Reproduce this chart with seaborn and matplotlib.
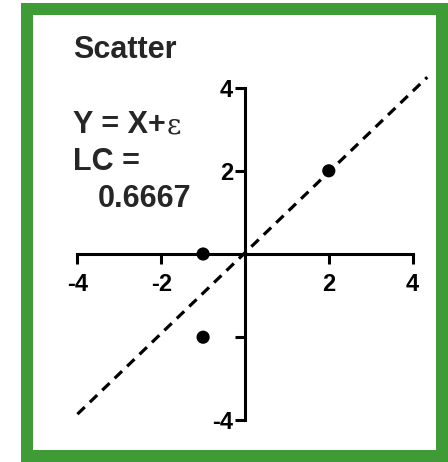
import matplotlib
matplotlib.use("Agg")
import matplotlib.pyplot as plt
import matplotlib.patches as mpatches
import seaborn as sns
import pandas as pd

# Observations
x_vals = [-1, -1, 2]
y_vals = [0, -2, 2]

# Reference line Y = X
line_x = [-4.0, 4.35]
line_y = [-3.85, 4.25]

x_ticks = [-4, -2, 2, 4]
x_tick_labels = ["-4", "-2", "2", "4"]
y_ticks = [-4, -2, 2, 4]
y_tick_labels = ["-4", "", "2", "4"]

title = "Scatter"
model_text = "Y = X+"
eps_text = "ε"
lc_label = "LC ="
lc_value = "0.6667"

sns.set_style("ticks")
plt.rcParams["font.family"] = ["Liberation Sans", "DejaVu Sans"]

W, H = 448, 462
fig = plt.figure(figsize=(W / 100, H / 100), dpi=100)
fig.patch.set_facecolor("white")

# axes placement (pixels from the top-left corner)
x0_px, y0_px = 245, 254
sx, sy = 41.9, 41.6
xlim = (-4.2, 4.5)
ylim = (-4.2, 4.5)
left = x0_px + xlim[0] * sx
right = x0_px + xlim[1] * sx
top = y0_px - ylim[1] * sy
bottom = y0_px - ylim[0] * sy
ax = fig.add_axes([left / W, 1 - bottom / H, (right - left) / W, (bottom - top) / H])
ax.set_facecolor("none")

df_pts = pd.DataFrame({"x": x_vals, "y": y_vals})
df_line = pd.DataFrame({"x": line_x, "y": line_y})

sns.lineplot(data=df_line, x="x", y="y", ax=ax, color="black", lw=2.3,
             dashes=False, sort=False, zorder=2).lines[0].set_dashes((3.2, 2.2))
sns.scatterplot(data=df_pts, x="x", y="y", ax=ax, color="black", s=90,
                edgecolor="none", zorder=3)

ax.set_xlim(*xlim)
ax.set_ylim(*ylim)
ax.set_xlabel("")
ax.set_ylabel("")

for side in ("top", "right"):
    ax.spines[side].set_visible(False)
for side in ("left", "bottom"):
    ax.spines[side].set_position(("data", 0))
    ax.spines[side].set_bounds(-4, 4)
    ax.spines[side].set_linewidth(2.2)
    ax.spines[side].set_color("black")

ax.set_xticks(x_ticks)
ax.set_xticklabels(x_tick_labels)
ax.set_yticks(y_ticks)
ax.set_yticklabels(y_tick_labels)
ax.tick_params(axis="both", direction="out", length=7.5, width=2.2,
               color="black", labelsize=17, labelcolor="black",
               bottom=True, left=True, top=False, right=False)
ax.tick_params(axis="x", pad=6)
ax.tick_params(axis="y", pad=1)
for lab in ax.get_xticklabels() + ax.get_yticklabels():
    lab.set_fontweight("bold")

# annotation text
def fy(px):
    return 1 - px / H

fs = 22
fig.text(73 / W, fy(58), title, fontsize=fs, fontweight="bold", va="baseline")
t = fig.text(73 / W, fy(133), model_text, fontsize=fs, fontweight="bold", va="baseline")
fig.canvas.draw()
bb = t.get_window_extent(renderer=fig.canvas.get_renderer())
fig.text(bb.x1 / W + 1 / W, fy(133), eps_text, fontsize=fs - 2, fontweight="normal",
         va="baseline", family=["DejaVu Serif", "DejaVu Sans"])
fig.text(73 / W, fy(170), lc_label, fontsize=fs, fontweight="bold", va="baseline")
fig.text(98 / W, fy(207), lc_value, fontsize=fs, fontweight="bold", va="baseline")

# green frame
border = mpatches.Rectangle((27 / W, 1 - 456 / H), (442 - 27) / W, (456 - 9) / H,
                            transform=fig.transFigure, fill=False,
                            edgecolor="#3f9b35", lw=12 * 0.72, zorder=10)
fig.patches.append(border)

fig.savefig("out.png", dpi=100)
